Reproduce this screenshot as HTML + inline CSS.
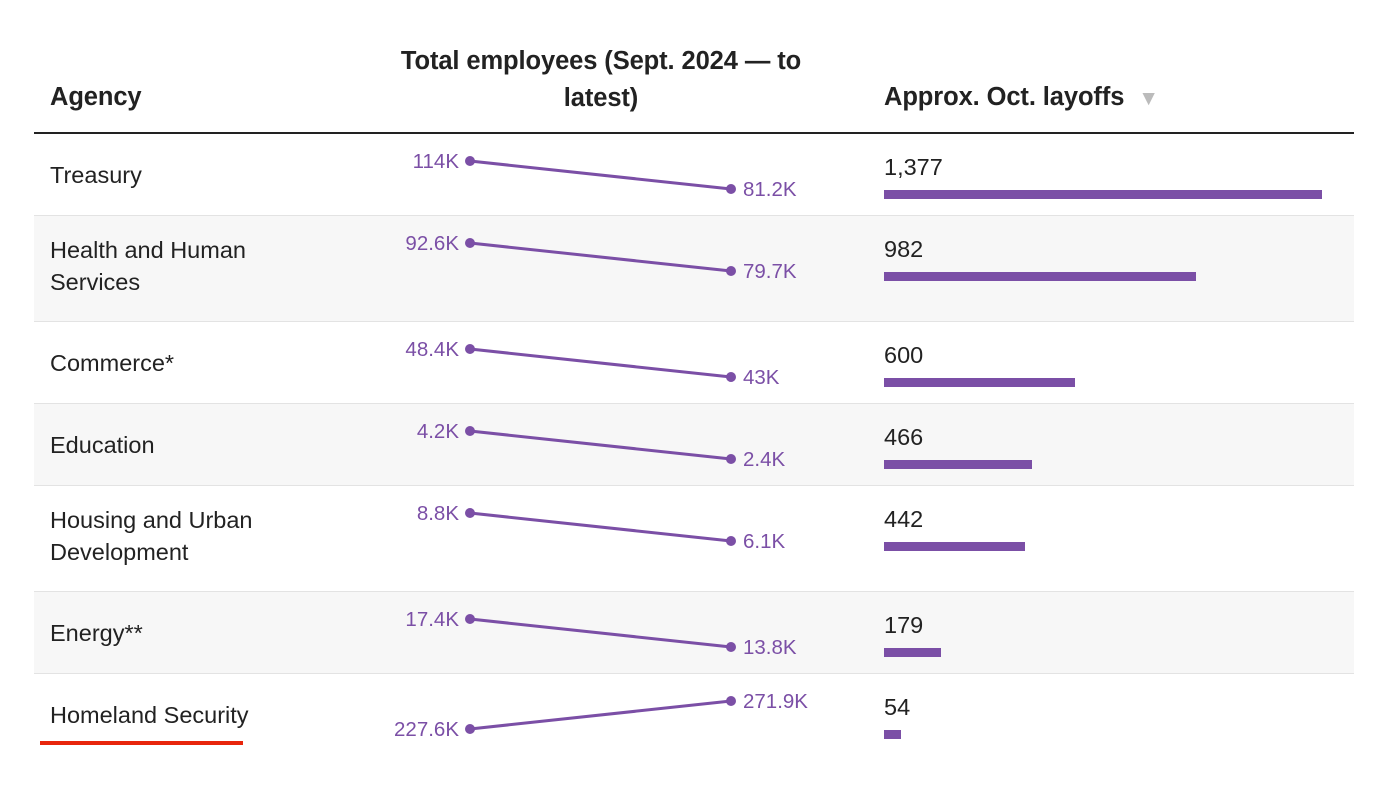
<!DOCTYPE html>
<html><head><meta charset="utf-8"><style>
body{margin:0;width:1390px;height:796px;background:#fff;font-family:"Liberation Sans",Arial,sans-serif;position:relative;overflow:hidden;color:#222}
.a{position:absolute}
.h{font-weight:bold;font-size:25.5px;color:#222;letter-spacing:-0.1px}
.row{position:absolute;left:34px;width:1320px}
.lbl{position:absolute;left:16px;font-size:23.5px;line-height:32px;color:#222}
.val{position:absolute;left:850px;font-size:23.5px;color:#222}
.bar{position:absolute;left:850px;height:9px;background:#7b4fa6}
</style></head><body>
<div class="a h" style="left:50px;top:83px">Agency</div>
<div class="a h" style="left:381px;top:43px;width:440px;text-align:center;line-height:37px">Total employees (Sept. 2024 — to latest)</div>
<div class="a h" style="left:884px;top:83px">Approx. Oct. layoffs &nbsp;<span style="color:#bbb;font-size:21px">▼</span></div>
<div class="a" style="left:34px;top:132px;width:1320px;height:3px;background:#222"></div>
<div id="rows"></div>
<svg id="slopes" class="a" style="left:0;top:0" width="1390" height="796"></svg>
<div class="a" style="left:40px;top:741px;width:203px;height:4px;background:#e8250c"></div>
<script>
const agencies=["Treasury","Health and Human Services","Commerce*","Education","Housing and Urban Development","Energy**","Homeland Security"];
const sept=[114,92.6,48.4,4.2,8.8,17.4,227.6];
const latest=[81.2,79.7,43,2.4,6.1,13.8,271.9];
const layoffs=[1377,982,600,466,442,179,54];
const twoLine=[false,true,false,false,true,false,false];
const fmtK=v=>v+"K";
const barScale=v=>v/1377*438;
const rowsEl=document.getElementById('rows'),svg=document.getElementById('slopes');
const NS="http://www.w3.org/2000/svg";
let rowTop=134;
agencies.forEach((name,i)=>{
  const h=twoLine[i]?105:81;
  const r=document.createElement('div');r.className='row';
  
  
  r.style.top=rowTop+'px';r.style.height=h+'px';
  r.style.background=i%2?'#f7f7f7':'#fff';
  r.style.borderBottom=i<agencies.length-1?'1px solid #e3e3e3':'none';
  const l=document.createElement('div');l.className='lbl';
  
  
  l.style.width=twoLine[i]?'240px':'400px';
  l.style.top=(twoLine[i]?18:25)+'px';l.textContent=name;r.appendChild(l);
  const v=document.createElement('div');v.className='val';
  
  
  v.style.top='20px';v.textContent=layoffs[i].toLocaleString('en-US');r.appendChild(v);
  const b=document.createElement('div');b.className='bar';
  
  
  b.style.top='56px';b.style.width=barScale(layoffs[i])+'px';r.appendChild(b);
  rowsEl.appendChild(r);
  const hi=rowTop+27,lo=rowTop+55;
  const y1=latest[i]<sept[i]?hi:lo,y2=latest[i]<sept[i]?lo:hi;
  const ln=document.createElementNS(NS,'line');
  
  
  ln.setAttribute('x1',470);ln.setAttribute('y1',y1);ln.setAttribute('x2',731);ln.setAttribute('y2',y2);
  ln.setAttribute('stroke','#7b4fa6');ln.setAttribute('stroke-width',3);svg.appendChild(ln);
  [[470,y1,sept[i],'end',459],[731,y2,latest[i],'start',743]].forEach(([x,y,val,anc,tx])=>{
    const c=document.createElementNS(NS,'circle');
    
    
    c.setAttribute('cx',x);c.setAttribute('cy',y);c.setAttribute('r',5);c.setAttribute('fill','#7b4fa6');svg.appendChild(c);
    const t=document.createElementNS(NS,'text');
    
    
    t.setAttribute('x',tx);t.setAttribute('y',y+7);t.setAttribute('text-anchor',anc);
    t.setAttribute('font-size',20.5);t.setAttribute('fill','#7b4fa6');t.setAttribute('font-family','Liberation Sans, Arial, sans-serif');
    t.textContent=fmtK(val);svg.appendChild(t);
  });
  rowTop+=h+1;
});
</script>
</body></html>
